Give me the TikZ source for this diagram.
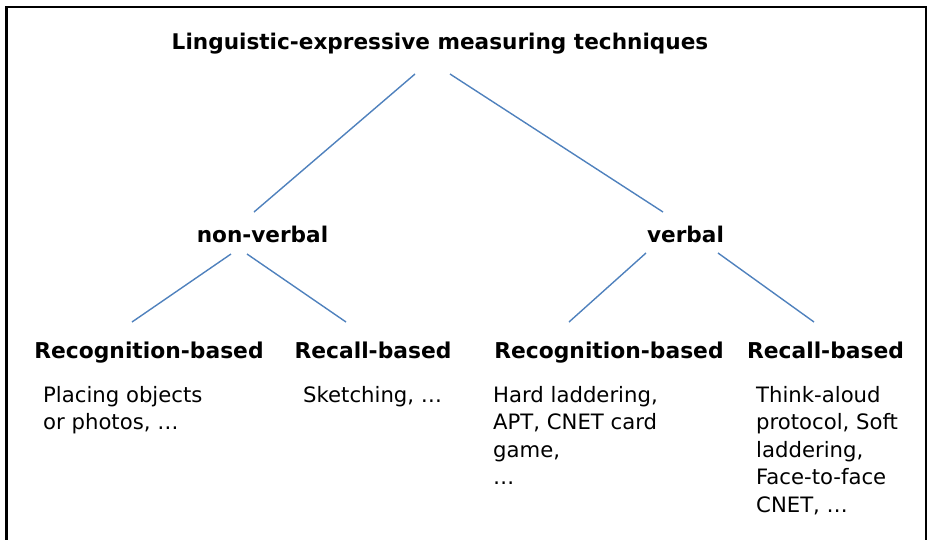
\documentclass[tikz,border=0pt]{standalone}
\usepackage{fontspec}
\setmainfont{DejaVu Sans}
\usetikzlibrary{calc}
\definecolor{linkblue}{HTML}{4F81BD}
\newcommand\textlines[1]{\vtop{\baselineskip=27.5pt #1}}
\begin{document}
\begin{tikzpicture}[x=1pt,y=-1pt,
  head/.style={anchor=base,inner sep=0pt,font=\fontsize{21.6}{26}\selectfont\bfseries},
  sub/.style={anchor=base,inner sep=0pt,font=\fontsize{21.8}{26}\selectfont\bfseries},
  body/.style={anchor=base west,inner sep=0pt,font=\fontsize{21.2}{26}\selectfont},
  link/.style={draw=linkblue,line width=1.4pt}]
\useasboundingbox (0,0) rectangle (932,539);
\clip (0,0) rectangle (932,539);
% frame, open at the bottom
\draw[line width=2.8pt,line join=miter] (6.5,560) -- (6.5,7) -- (926,7) -- (926,560);

% headings
\node[head] (title) at (440,49) {Linguistic-expressive measuring techniques};
\node[head] (nonverbal) at (262.5,242) {non-verbal};
\node[head] (verbal) at (685.5,242) {verbal};
\node[sub] (recogA) at (149,358) {Recognition-based};
\node[sub] (recallA) at (373,358) {Recall-based};
\node[sub] (recogB) at (609,358) {Recognition-based};
\node[sub] (recallB) at (825.5,358) {Recall-based};

% example lists
\node[body] (exA) at (43,402) {\textlines{\hbox{Placing objects}\hbox{or photos, …}}};
\node[body] (exB) at (303,402) {\textlines{\hbox{Sketching, …}}};
\node[body] (exC) at (493,402) {\textlines{\hbox{Hard laddering,}\hbox{APT, CNET card}\hbox{game,}\hbox{…}}};
\node[body] (exD) at (756,402) {\textlines{\hbox{Think-aloud}\hbox{protocol, Soft}\hbox{laddering,}\hbox{Face-to-face}\hbox{CNET, …}}};

% tree connectors
\draw[link] ($(title.base)+(-25,25)$) -- ($(nonverbal.base)+(-8.5,-30)$);
\draw[link] ($(title.base)+(10,25)$) -- ($(verbal.base)+(-22.5,-30)$);
\draw[link] ($(nonverbal.base)+(-31.5,12)$) -- ($(recogA.base)+(-17,-36)$);
\draw[link] ($(nonverbal.base)+(-15.5,12)$) -- ($(recallA.base)+(-27,-36)$);
\draw[link] ($(verbal.base)+(-39.5,11)$) -- ($(recogB.base)+(-40,-36)$);
\draw[link] ($(verbal.base)+(32.5,11)$) -- ($(recallB.base)+(-11.5,-36)$);
\end{tikzpicture}
\end{document}
